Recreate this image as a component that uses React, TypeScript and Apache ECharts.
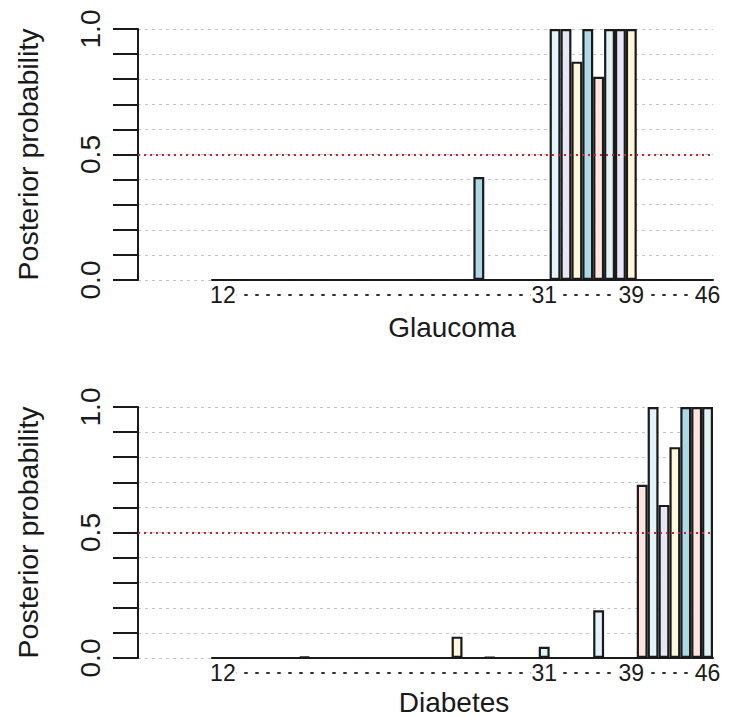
import React, { useEffect, useRef } from "react";
import * as echarts from "echarts";

// ---- data ----
const positions = [
  1, 2, 3, 4, 5, 6, 7, 8, 9, 10, 11, 12, 13, 14, 15, 16, 17, 18, 19, 20, 21, 22, 23,
  24, 25, 26, 27, 28, 29, 30, 31, 32, 33, 34, 35, 36, 37, 38, 39, 40, 41, 42, 43, 44, 45, 46,
];
const glaucoma = [
  0, 0, 0, 0, 0, 0, 0, 0, 0, 0, 0, 0, 0, 0, 0, 0, 0, 0, 0, 0, 0, 0, 0,
  0, 0.41, 0, 0, 0, 0, 0, 0, 1.0, 1.0, 0.87, 1.0, 0.81, 1.0, 1.0, 1.0, 0, 0, 0, 0, 0, 0, 0,
];
const diabetes = [
  0, 0, 0, 0, 0, 0, 0, 0, 0.005, 0, 0, 0, 0, 0, 0, 0, 0, 0, 0, 0, 0, 0, 0.085,
  0, 0, 0.003, 0, 0, 0, 0, 0.045, 0, 0, 0, 0, 0.19, 0, 0, 0, 0.69, 1.0, 0.61, 0.84, 1.0, 1.0, 1.0,
];
const xTickValues = [1.5, 31, 39, 46];
const xTickLabels = ["12", "31", "39", "46"];
const yTickValues = [0, 0.5, 1];
const yTickLabels = ["0.0", "0.5", "1.0"];
const threshold = 0.5;
const panelTitles = ["Glaucoma", "Diabetes"];
const yTitle = "Posterior probability";

// ---- styles ----
const palette = ["#ADD8E6", "#FDE4E0", "#E2F3F8", "#E6E6F6", "#FDF7DB"];
const colorShift = [1, 2];
const FONT = "'Liberation Sans', Arial, Helvetica, sans-serif";
const INK = "#1a1a1a";
const panelTop = [29, 407];
const panelHeight = 251;
const axisLeft = 138;
const barsLeft = 212;
const rightGap = 18;
const titleCenterX = [452, 454];
const titleCenterY = [327, 702];

function buildOption() {
  const grid: any[] = [];
  const xAxis: any[] = [];
  const yAxis: any[] = [];
  const series: any[] = [];
  const title: any[] = [];
  const seriesData = [glaucoma, diabetes];

  for (let p = 0; p < 2; p++) {
    const gA = grid.length;
    grid.push({ left: axisLeft, right: rightGap, top: panelTop[p], height: panelHeight });
    const gB = grid.length;
    grid.push({ left: barsLeft, right: rightGap, top: panelTop[p], height: panelHeight });

    // grid A: y axis, grid lines, threshold
    const xA = xAxis.length;
    xAxis.push({ type: "value", gridIndex: gA, min: 0, max: 1, show: false });
    const yA = yAxis.length;
    yAxis.push({
      type: "value",
      gridIndex: gA,
      min: 0,
      max: 1,
      interval: 0.1,
      position: "left",
      axisLine: { show: true, onZero: false, lineStyle: { color: INK, width: 2 } },
      axisTick: { show: true, length: 25, lineStyle: { color: INK, width: 2 } },
      axisLabel: {
        rotate: 90,
        margin: 34,
        fontSize: 28,
        fontFamily: FONT,
        color: INK,
        formatter: (v: number) => {
          const i = yTickValues.findIndex((t) => Math.abs(t - v) < 1e-6);
          return i >= 0 ? yTickLabels[i] : "";
        },
      },
      splitLine: { show: true, lineStyle: { color: "#c4c4c4", width: 1, type: [3, 4] } },
      name: yTitle,
      nameLocation: "middle",
      nameGap: 96,
      nameTextStyle: { fontSize: 28.5, fontFamily: FONT, color: INK },
    });

    // grid B: bars on category axis + label axis
    const xB = xAxis.length;
    xAxis.push({
      type: "category",
      gridIndex: gB,
      position: "bottom",
      data: positions,
      boundaryGap: true,
      axisLine: { show: true, onZero: false, lineStyle: { color: INK, width: 2 } },
      axisTick: { show: false },
      axisLabel: { show: false },
      splitLine: { show: false },
    });
    xAxis.push({
      type: "value",
      gridIndex: gB,
      position: "bottom",
      offset: 15,
      min: 0.5,
      max: 46.5,
      interval: 0.5,
      axisLine: { show: true, onZero: false, lineStyle: { color: "#333333", width: 2, type: [2, 9] } },
      axisTick: { show: false },
      splitLine: { show: false },
      axisLabel: {
        show: true,
        margin: -12,
        formatter: (v: number) => {
          const i = xTickValues.findIndex((t) => Math.abs(t - v) < 1e-6);
          return i >= 0 ? "{t|" + xTickLabels[i] + "}" : "";
        },
        rich: {
          t: {
            fontSize: 23,
            fontFamily: FONT,
            color: INK,
            backgroundColor: "#ffffff",
            padding: [0, 1],
          },
        },
      },
    });
    const yB = yAxis.length;
    yAxis.push({ type: "value", gridIndex: gB, min: 0, max: 1, show: false });

    const shift = colorShift[p];
    series.push({
      type: "bar",
      xAxisIndex: xB,
      yAxisIndex: yB,
      data: seriesData[p],
      barWidth: "100%",
      barCategoryGap: "0%",
      z: 2,
      itemStyle: {
        color: (params: any) => palette[(params.dataIndex + shift) % palette.length],
        borderColor: INK,
        borderWidth: 2.2,
      },
    });
    series.push({
      type: "line",
      xAxisIndex: xA,
      yAxisIndex: yA,
      data: [],
      z: 5,
      silent: true,
      markLine: {
        silent: true,
        symbol: ["none", "none"],
        label: { show: false },
        lineStyle: { color: "#c62828", width: 2, type: [2, 4] },
        data: [{ yAxis: threshold }],
      },
    });

    title.push({
      text: panelTitles[p],
      left: titleCenterX[p],
      top: titleCenterY[p] - 14,
      textAlign: "center",
      padding: 0,
      textStyle: { fontSize: 28, fontWeight: "normal", fontFamily: FONT, color: INK },
    });
  }

  return {
    animation: false,
    backgroundColor: "#ffffff",
    title,
    grid,
    xAxis,
    yAxis,
    series,
  };
}

export default function App() {
  const ref = useRef<HTMLDivElement>(null);
  useEffect(() => {
    document.body.style.margin = "0";
    if (!ref.current) return;
    const chart = echarts.init(ref.current, null, { renderer: "svg" });
    chart.setOption(buildOption() as any);
    return () => chart.dispose();
  }, []);
  return <div ref={ref} style={{ width: 731, height: 717 }} />;
}
